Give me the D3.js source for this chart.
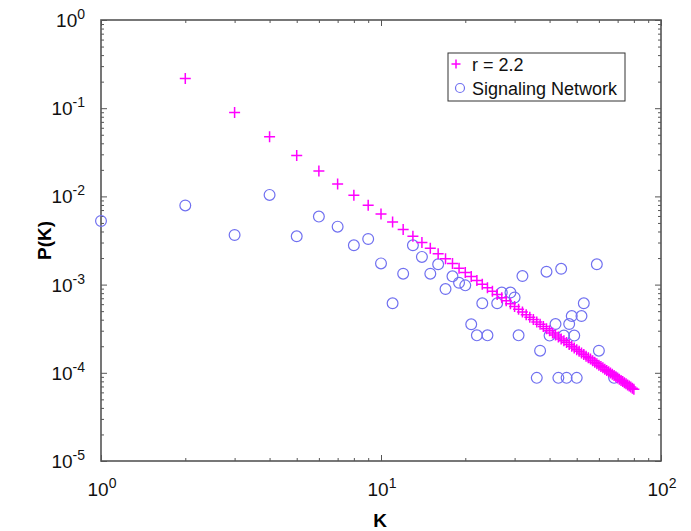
<!DOCTYPE html>
<html>
<head>
<meta charset="utf-8">
<script src="https://cdn.jsdelivr.net/npm/d3@7"></script>
<style>
  body { margin: 0; background: #fff; }
  svg { font-family: Arial, "Liberation Sans", sans-serif; }
</style>
</head>
<body>
<div id="chart"></div>
<script>
// power law reference, r = 2.2
const fitK = [2,3,4,5,6,7,8,9,10,11,12,13,14,15,16,17,18,19,20,21,22,23,24,25,26,27,28,29,30,
  31,32,33,34,35,36,37,38,39,40,41,42,43,44,45,46,47,48,49,50,51,52,53,54,55,56,57,58,59,60,
  61,62,63,64,65,66,67,68,69,70,71,72,73,74,75,76,77,78,79,80];
const fitP = [0.2176,0.0892,0.04737,0.0290,0.01941,0.01382,0.01031,0.007956,0.00631,0.005117,
  0.004224,0.003542,0.00301,0.002586,0.002244,0.001963,0.001731,0.001537,0.001373,0.001233,
  0.001113,0.00101,0.00092,0.000841,0.000771,0.00071,0.000655,0.000606,0.000563,0.000524,
  0.000488,0.000456,0.000427,0.000401,0.000377,0.000355,0.000335,0.000316,0.000299,0.000283,
  0.000268,0.000255,0.000242,0.000231,0.00022,0.00021,0.0002,0.000191,0.000183,0.000175,
  0.000168,0.000161,0.000154,0.000148,0.000143,0.000137,0.000132,0.000127,0.000122,0.000118,
  0.000114,0.00011,0.000106,0.000103,0.0000993,0.0000961,0.000093,0.0000901,0.0000873,0.0000846,
  0.000082,0.0000796,0.0000772,0.000075,0.0000728,0.0000707,0.0000688,0.0000669,0.000065];

// signaling network degree distribution
const netK = [1,2,3,4,5,6,7,8,9,10,11,12,13,14,15,16,17,18,19,20,21,22,23,24,26,27,29,30,31,32,
  36,37,39,40,42,43,44,45,46,47,48,49,50,52,53,59,60,68];
const netP = [0.00526,0.0079,0.00365,0.0104,0.00353,0.0059,0.00454,0.00279,0.00329,0.00174,
  0.000614,0.00133,0.00279,0.00206,0.00133,0.0017,0.00089,0.00124,0.00105,0.00098,
  0.000355,0.000266,0.000614,0.000266,0.000614,0.000813,0.000813,0.000714,0.000266,0.00125,
  0.0000876,0.000178,0.0014,0.000264,0.000357,0.0000876,0.00151,0.000264,0.0000876,0.000357,
  0.00044,0.000264,0.0000876,0.00044,0.000614,0.0017,0.000178,0.0000876];

const xTicks = [0, 1, 2];          // exponents of 10
const yTicks = [0, -1, -2, -3, -4, -5];
const legendLabels = ["r = 2.2", "Signaling Network"];

const width = 691, height = 531;
const padL = 101, padR = 661, padT = 20, padB = 461;
const axisColor = "#555";
const plusColor = "#ff00ff";
const circleColor = "#7070f0";

const svg = d3.select("#chart").append("svg")
  .attr("width", width).attr("height", height);

const x = d3.scaleLog().domain([1, 100]).range([padL, padR]);
const y = d3.scaleLog().domain([1e-5, 1]).range([padB, padT]);

function minors(lo, hi) {
  const out = [];
  for (let d = lo; d < hi * 0.999; d *= 10)
    for (let m = 2; m <= 9; m++) out.push(m * d);
  return out;
}
const xMajor = xTicks.map(e => Math.pow(10, e));
const yMajor = yTicks.map(e => Math.pow(10, e));
const xMinor = minors(1, 100);
const yMinor = minors(1e-5, 1);

function drawAxis(axisFn, scale, vals, size, tx, ty) {
  const g = svg.append("g")
    .attr("transform", `translate(${tx},${ty})`)
    .call(axisFn(scale).tickValues(vals).tickSize(size).tickFormat(""));
  g.select(".domain").remove();
  g.selectAll("line").attr("stroke", axisColor).attr("stroke-width", 1);
}
// ticks point inward on all four sides
drawAxis(d3.axisBottom, x, xMajor, -6, 0, padB);
drawAxis(d3.axisBottom, x, xMinor, -3, 0, padB);
drawAxis(d3.axisTop, x, xMajor, -6, 0, padT);
drawAxis(d3.axisTop, x, xMinor, -3, 0, padT);
drawAxis(d3.axisLeft, y, yMajor, -6, padL, 0);
drawAxis(d3.axisLeft, y, yMinor, -3, padL, 0);
drawAxis(d3.axisRight, y, yMajor, -6, padR, 0);
drawAxis(d3.axisRight, y, yMinor, -3, padR, 0);

svg.append("rect")
  .attr("x", padL).attr("y", padT)
  .attr("width", padR - padL).attr("height", padB - padT)
  .attr("fill", "none").attr("stroke", axisColor).attr("stroke-width", 1.6);

// tick labels with superscript exponent
function powLabel(sel, exp) {
  sel.append("tspan").text("10");
  sel.append("tspan").attr("dy", -8).attr("font-size", 14).text(exp);
}
xTicks.forEach(e => {
  const t = svg.append("text")
    .attr("x", x(Math.pow(10, e)) + 1).attr("y", 496)
    .attr("text-anchor", "middle").attr("font-size", 19).attr("fill", "#111");
  powLabel(t, e);
});
yTicks.forEach(e => {
  const t = svg.append("text")
    .attr("x", 85).attr("y", y(Math.pow(10, e)) + 7)
    .attr("text-anchor", "end").attr("font-size", 19).attr("fill", "#111");
  powLabel(t, e);
});

svg.append("text")
  .attr("x", 380).attr("y", 527)
  .attr("text-anchor", "middle").attr("font-size", 19).attr("font-weight", "bold")
  .text("K");
svg.append("text")
  .attr("transform", `translate(51,${(padT + padB) / 2}) rotate(-90)`)
  .attr("text-anchor", "middle").attr("font-size", 19).attr("font-weight", "bold")
  .text("P(K)");

// data
const plusPath = s => `M${-s},0H${s}M0,${-s}V${s}`;

svg.append("g").selectAll("circle")
  .data(netK.map((k, i) => [k, netP[i]]))
  .join("circle")
  .attr("cx", d => x(d[0])).attr("cy", d => y(d[1]))
  .attr("r", 5.4)
  .attr("fill", "none").attr("stroke", circleColor).attr("stroke-width", 1.2);

svg.append("g").selectAll("path")
  .data(fitK.map((k, i) => [k, fitP[i]]))
  .join("path")
  .attr("transform", d => `translate(${x(d[0])},${y(d[1])})`)
  .attr("d", plusPath(5.5))
  .attr("stroke", plusColor).attr("stroke-width", 1.5).attr("fill", "none");

// legend
const lg = svg.append("g").attr("transform", "translate(448,53)");
lg.append("rect").attr("width", 177).attr("height", 48)
  .attr("fill", "#fff").attr("stroke", "#333").attr("stroke-width", 1);
lg.append("path").attr("transform", "translate(8,11)")
  .attr("d", plusPath(4.5)).attr("stroke", plusColor).attr("stroke-width", 1.5);
lg.append("circle").attr("cx", 12).attr("cy", 35).attr("r", 4.5)
  .attr("fill", "none").attr("stroke", circleColor).attr("stroke-width", 1.2);
legendLabels.forEach((txt, i) => {
  lg.append("text").attr("x", 24).attr("y", 18 + i * 24)
    .attr("font-size", 18).attr("fill", "#111").text(txt);
});
</script>
</body>
</html>
